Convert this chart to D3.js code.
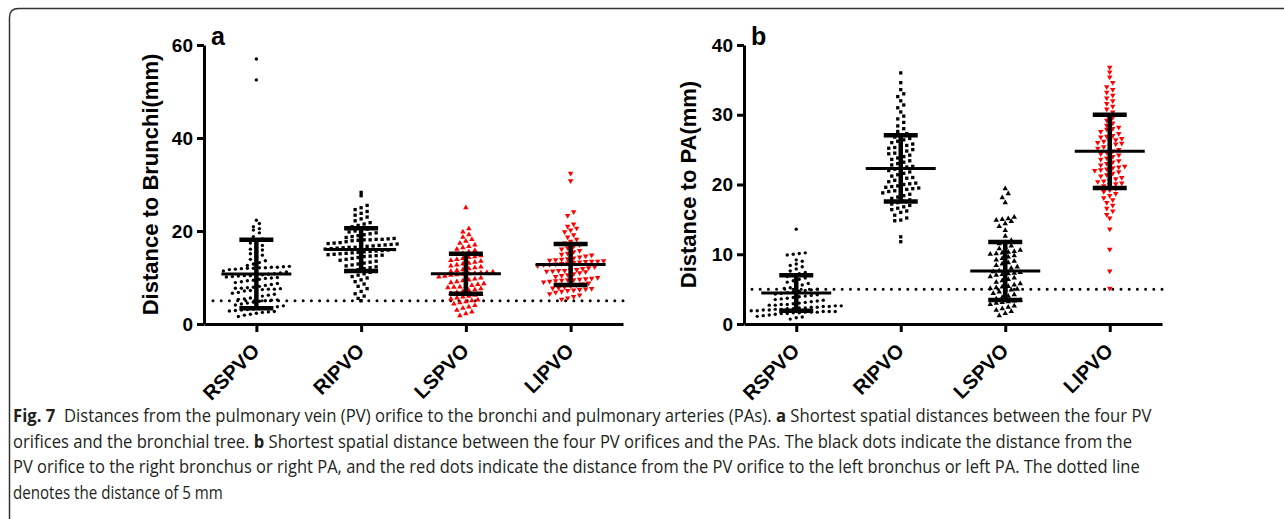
<!DOCTYPE html>
<html>
<head>
<meta charset="utf-8">
<script src="https://d3js.org/d3.v7.min.js"></script>
<style>
  body { margin: 0; background: #fff; }
  .tick text { font-family: "Liberation Sans", Arial, sans-serif; font-weight: bold; }
</style>
</head>
<body>
<div id="fig7"></div>
<script>
// categories and ticks
var categories = ["RSPVO", "RIPVO", "LSPVO", "LIPVO"]
var bronchiTicks = [0, 20, 40, 60]
var paTicks = [0, 10, 20, 30, 40]
var cutoff = 5

// panel a : distance to bronchi (mm)
var bronchiRSPVO = [57.0, 52.5, 22.3, 21.6, 20.9, 20.5, 20.2, 19.6, 18.8, 18.3, 17.8, 17.4, 16.9, 16.5, 16.1, 15.9, 15.4, 15.1, 14.8, 14.3, 13.9, 13.6, 13.2, 12.9, 12.6, 12.4, 12.3, 12.2, 12.2, 12.1, 12.1, 12.0, 12.0, 11.9, 11.8, 11.7, 11.4, 11.2, 11.0, 10.8, 10.7, 10.6, 10.5, 10.4, 10.4, 10.3, 10.2, 10.1, 10.0, 9.9, 9.8, 9.6, 9.4, 9.3, 9.1, 8.9, 8.7, 8.5, 8.3, 8.1, 7.9, 7.8, 7.7, 7.7, 7.6, 7.5, 7.5, 7.4, 7.3, 7.2, 7.1, 6.8, 6.6, 6.4, 6.2, 6.0, 5.8, 5.6, 5.4, 5.3, 5.2, 5.1, 5.0, 4.9, 4.7, 4.5, 4.3, 4.1, 3.9, 3.7, 3.5, 3.4, 3.3, 3.2, 3.1, 3.0, 2.9, 2.8, 2.7, 2.6, 2.5, 2.3, 2.1, 1.9, 1.6]
var bronchiRIPVO = [28.3, 27.6, 25.5, 25.0, 24.6, 24.2, 23.8, 23.4, 23.0, 22.6, 22.2, 21.8, 21.5, 21.2, 20.9, 20.6, 20.4, 20.2, 20.0, 19.8, 19.6, 19.4, 19.2, 19.0, 18.8, 18.6, 18.4, 18.3, 18.2, 18.2, 18.1, 18.1, 18.0, 17.9, 17.7, 17.5, 17.4, 17.3, 17.2, 17.1, 17.0, 16.9, 16.8, 16.7, 16.6, 16.5, 16.5, 16.4, 16.3, 16.2, 16.1, 16.0, 15.9, 15.8, 15.7, 15.6, 15.5, 15.4, 15.3, 15.2, 15.1, 15.0, 14.9, 14.8, 14.7, 14.6, 14.5, 14.3, 14.1, 13.9, 13.7, 13.5, 13.3, 13.1, 12.9, 12.7, 12.5, 12.3, 12.1, 11.9, 11.7, 11.5, 11.3, 11.1, 10.8, 10.5, 10.2, 9.9, 9.5, 9.1, 8.6, 8.1, 7.6, 7.0, 6.5, 6.0, 5.5, 5.0]
var bronchiLSPVO = [25.0, 20.5, 19.8, 19.2, 18.7, 18.2, 17.8, 17.4, 17.0, 16.7, 16.4, 16.1, 15.8, 15.5, 15.2, 15.0, 14.7, 14.5, 14.3, 14.1, 13.9, 13.7, 13.5, 13.3, 13.1, 12.9, 12.7, 12.5, 12.3, 12.1, 11.9, 11.7, 11.5, 11.3, 11.2, 11.1, 11.0, 10.9, 10.8, 10.7, 10.6, 10.5, 10.3, 10.1, 9.9, 9.7, 9.5, 9.3, 9.1, 8.9, 8.7, 8.5, 8.3, 8.1, 8.0, 7.9, 7.8, 7.6, 7.4, 7.2, 7.0, 6.8, 6.6, 6.4, 6.2, 6.0, 5.8, 5.6, 5.4, 5.2, 5.0, 4.8, 4.6, 4.3, 4.0, 3.7, 3.4, 3.0, 2.6, 2.2, 1.8]
var bronchiLIPVO = [32.4, 30.8, 24.1, 23.3, 21.5, 21.0, 20.6, 20.2, 19.8, 19.2, 18.7, 18.2, 17.8, 17.4, 17.0, 16.7, 16.4, 16.1, 15.8, 15.5, 15.2, 15.0, 14.8, 14.6, 14.4, 14.2, 14.0, 13.9, 13.8, 13.7, 13.6, 13.5, 13.5, 13.4, 13.3, 13.2, 13.1, 13.0, 12.9, 12.8, 12.7, 12.5, 12.3, 12.1, 11.9, 11.7, 11.6, 11.5, 11.5, 11.4, 11.3, 11.2, 11.0, 10.8, 10.6, 10.4, 10.2, 10.0, 9.8, 9.7, 9.6, 9.5, 9.5, 9.4, 9.3, 9.2, 9.0, 8.8, 8.6, 8.4, 8.2, 8.0, 7.8, 7.7, 7.6, 7.5, 7.4, 7.3, 7.2, 7.0, 6.8, 6.5, 6.2, 5.9, 5.6, 5.3]
var bronchiMeans = [10.75, 16.0, 10.8, 12.8]
var bronchiSDs = [7.35, 4.6, 4.3, 4.4]

// panel b : distance to PA (mm)
var paRSPVO = [13.6, 10.2, 10.1, 10.0, 9.9, 9.2, 9.0, 8.6, 8.4, 8.2, 7.9, 7.6, 7.4, 7.2, 7.0, 6.8, 6.6, 6.4, 6.2, 6.0, 5.8, 5.6, 5.4, 5.2, 5.1, 5.0, 4.9, 4.8, 4.7, 4.6, 4.5, 4.4, 4.3, 4.2, 4.1, 4.0, 3.9, 3.8, 3.7, 3.6, 3.5, 3.4, 3.3, 3.2, 3.1, 3.0, 2.9, 2.8, 2.8, 2.7, 2.7, 2.6, 2.6, 2.5, 2.5, 2.4, 2.4, 2.3, 2.3, 2.2, 2.2, 2.1, 2.1, 2.0, 2.0, 1.9, 1.9, 1.8, 1.8, 1.8, 1.7, 1.7, 1.7, 1.6, 1.6, 1.5, 1.5, 1.4, 1.3, 1.2, 1.1, 1.0, 0.9, 0.7]
var paRIPVO = [36.0, 34.6, 33.6, 33.0, 32.6, 32.0, 31.4, 31.0, 30.4, 29.8, 29.4, 28.9, 28.4, 28.0, 27.6, 27.3, 27.0, 26.8, 26.6, 26.4, 26.2, 26.0, 25.8, 25.6, 25.4, 25.3, 25.2, 25.0, 24.8, 24.6, 24.5, 24.4, 24.2, 24.0, 23.8, 23.6, 23.4, 23.2, 23.0, 22.8, 22.6, 22.5, 22.4, 22.2, 22.0, 21.8, 21.6, 21.4, 21.2, 21.0, 20.9, 20.8, 20.6, 20.4, 20.2, 20.1, 20.0, 19.8, 19.7, 19.6, 19.5, 19.4, 19.3, 19.2, 19.1, 19.0, 18.8, 18.6, 18.4, 18.2, 18.0, 17.8, 17.6, 17.4, 17.2, 17.0, 16.8, 16.6, 16.4, 16.2, 16.0, 15.6, 15.2, 14.9, 14.8, 12.5, 11.8]
var paLSPVO = [19.4, 18.7, 18.1, 17.4, 15.3, 15.1, 15.0, 14.9, 14.7, 14.4, 14.0, 13.4, 12.6, 12.0, 11.7, 11.5, 11.2, 11.0, 10.8, 10.6, 10.4, 10.3, 10.2, 10.1, 10.0, 9.8, 9.6, 9.4, 9.2, 9.0, 8.8, 8.6, 8.4, 8.2, 8.0, 7.8, 7.6, 7.5, 7.4, 7.3, 7.2, 7.1, 7.0, 6.8, 6.6, 6.4, 6.2, 6.0, 5.8, 5.6, 5.4, 5.3, 5.2, 5.1, 5.0, 4.9, 4.8, 4.6, 4.4, 4.2, 4.0, 3.8, 3.6, 3.4, 3.3, 3.2, 3.1, 3.0, 2.8, 2.6, 2.4, 2.2, 2.0, 1.8, 1.5, 1.2]
var paLIPVO = [36.8, 36.1, 35.4, 34.6, 34.0, 33.6, 33.2, 32.8, 32.4, 32.0, 31.6, 31.2, 30.8, 30.4, 30.0, 29.6, 29.2, 28.8, 28.5, 28.2, 28.0, 27.9, 27.6, 27.3, 27.0, 26.9, 26.8, 26.6, 26.4, 26.3, 26.2, 26.0, 25.9, 25.8, 25.6, 25.4, 25.2, 25.0, 24.8, 24.6, 24.4, 24.2, 24.0, 23.8, 23.6, 23.4, 23.2, 23.0, 22.8, 22.6, 22.5, 22.4, 22.2, 22.1, 22.0, 21.8, 21.6, 21.4, 21.2, 21.0, 20.8, 20.6, 20.5, 20.4, 20.2, 20.1, 20.0, 19.8, 19.6, 19.4, 19.2, 19.0, 18.7, 18.4, 18.1, 17.8, 17.4, 17.0, 16.6, 16.2, 15.7, 15.2, 13.6, 10.7, 7.6, 5.1]
var paMeans = [4.45, 22.3, 7.6, 24.75]
var paSDs = [2.55, 4.75, 4.15, 5.25]

// caption lines (plain / bold parts)
var captionLines = [
  [["Fig. 7", true], ["  Distances from the pulmonary vein (PV) orifice to the bronchi and pulmonary arteries (PAs). ", false], ["a", true], [" Shortest spatial distances between the four PV", false]],
  [["orifices and the bronchial tree. ", false], ["b", true], [" Shortest spatial distance between the four PV orifices and the PAs. The black dots indicate the distance from the", false]],
  [["PV orifice to the right bronchus or right PA, and the red dots indicate the distance from the PV orifice to the left bronchus or left PA. The dotted line", false]],
  [["denotes the distance of 5 mm", false]]
]
var captionWidths = [1139, 1120, 1127, 210]

var svg = d3.select("#fig7")
  .append("svg")
    .attr("width", 1284)
    .attr("height", 519)
    .style("display", "block")

// rounded frame (top + left edges visible)
svg.append("path")
  .attr("d", "M9.5,560V17.5Q9.5,8.5 18.5,8.5H1300")
  .attr("fill", "none")
  .attr("stroke", "#333")
  .attr("stroke-width", 1.5)

var markerTypes = [d3.symbolCircle, d3.symbolSquare, d3.symbolTriangle, d3.symbolTriangle]
var markerSizes = [9, 11, 13, 13]

// group points with close pixel height into rows, spread them sideways
function swarm(values, y, rowH, step) {
  var rows = d3.group(values, function(v) { return Math.round(y(v) / rowH) })
  var out = []
  rows.forEach(function(list) {
    list.sort(d3.ascending)
    var n = list.length
    list.forEach(function(v, k) {
      out.push({ v: v, dx: (k - (n - 1) / 2) * step })
    })
  })
  return out
}

function drawPanel(p) {
  var g = svg.append("g")
    .attr("transform", "translate(" + p.left + "," + p.top + ")")

  var x = d3.scalePoint()
    .domain(categories)
    .range([0, p.width])
    .padding(0.5)

  var y = d3.scaleLinear()
    .domain([0, d3.max(p.ticks)])
    .range([p.height, 0])

  // Y axis
  var yAxis = g.append("g")
    .call(d3.axisLeft(y).tickValues(p.ticks).tickSize(7).tickSizeOuter(0).tickPadding(4))
  yAxis.select(".domain").attr("stroke-width", 3)
  yAxis.selectAll(".tick line").attr("stroke-width", 3)
  yAxis.selectAll(".tick text").style("font-size", "19px").attr("fill", "#000")

  // X axis
  var xAxis = g.append("g")
    .attr("transform", "translate(0," + p.height + ")")
    .call(d3.axisBottom(x).tickSize(8).tickSizeOuter(0))
  xAxis.select(".domain").attr("stroke-width", 3)
  xAxis.selectAll(".tick line").attr("stroke-width", 3)
  xAxis.selectAll(".tick text")
    .attr("x", 0)
    .attr("y", 0)
    .attr("dy", 0)
    .attr("transform", "translate(4,28)rotate(-45)")
    .style("text-anchor", "end")
    .style("font-size", "20px")
    .attr("fill", "#000")

  // y label
  g.append("text")
    .attr("transform", "translate(" + p.labelX + "," + (p.height / 2) + ")rotate(-90)")
    .attr("text-anchor", "middle")
    .style("font-family", "'Liberation Sans', Arial, sans-serif")
    .style("font-weight", "bold")
    .style("font-size", "22px")
    .text(p.label)

  // panel letter
  g.append("text")
    .attr("x", 7)
    .attr("y", 0)
    .style("font-family", "'Liberation Sans', Arial, sans-serif")
    .style("font-weight", "bold")
    .style("font-size", "25px")
    .text(p.letter)

  // 5 mm dotted line
  g.append("line")
    .attr("x1", p.dotStart)
    .attr("x2", p.width)
    .attr("y1", y(cutoff))
    .attr("y2", y(cutoff))
    .attr("stroke", "#000")
    .attr("stroke-width", 3)
    .attr("stroke-linecap", "round")
    .attr("stroke-dasharray", "0,8.2")

  // dots
  p.groups.forEach(function(vals, i) {
    var pts = swarm(vals, y, 5.6, 6)
    var sym = d3.symbol().type(markerTypes[i]).size(markerSizes[i])
    g.append("g").selectAll("path")
      .data(pts)
      .enter()
      .append("path")
        .attr("d", sym)
        .attr("fill", p.colors[i])
        .attr("transform", function(d) {
          return "translate(" + (x(categories[i]) + d.dx) + "," + y(d.v) + ")" + (i == 3 ? "rotate(180)" : "")
        })
  })

  // mean and SD
  categories.forEach(function(c, i) {
    var cx = x(c), m = p.means[i], s = p.sds[i]
    g.append("line")
      .attr("x1", cx).attr("x2", cx)
      .attr("y1", y(m + s)).attr("y2", y(m - s))
      .attr("stroke", "#000").attr("stroke-width", 4.5)
    ;[m + s, m - s].forEach(function(v) {
      g.append("line")
        .attr("x1", cx - 17).attr("x2", cx + 17)
        .attr("y1", y(v)).attr("y2", y(v))
        .attr("stroke", "#000").attr("stroke-width", 4.5)
    })
    g.append("line")
      .attr("x1", cx - 35).attr("x2", cx + 35)
      .attr("y1", y(m)).attr("y2", y(m))
      .attr("stroke", "#000").attr("stroke-width", 3)
  })
}

drawPanel({
  letter: "a", left: 204, top: 45, width: 419, height: 279,
  ticks: bronchiTicks, label: "Distance to Brunchi(mm)", labelX: -46, dotStart: 9,
  groups: [bronchiRSPVO, bronchiRIPVO, bronchiLSPVO, bronchiLIPVO],
  colors: ["#000", "#000", "#f00", "#f00"],
  means: bronchiMeans, sds: bronchiSDs
})

drawPanel({
  letter: "b", left: 744, top: 45, width: 418, height: 279,
  ticks: paTicks, label: "Distance to PA(mm)", labelX: -48, dotStart: 8,
  groups: [paRSPVO, paRIPVO, paLSPVO, paLIPVO],
  colors: ["#000", "#000", "#000", "#f00"],
  means: paMeans, sds: paSDs
})

// caption: natural width measured, then squeezed sideways to the reference width
var caption = svg.append("g")
captionLines.forEach(function(parts, i) {
  var t = caption.append("text")
    .attr("x", 0)
    .attr("y", 0)
    .style("font-family", "'Open Sans', 'Noto Sans', sans-serif")
    .style("font-size", "18px")
    .attr("fill", "#231f20")
    .attr("xml:space", "preserve")
    .style("white-space", "pre")
  parts.forEach(function(part) {
    t.append("tspan")
      .style("font-weight", part[1] ? "bold" : "normal")
      .text(part[0])
  })
  var len = t.node().getComputedTextLength()
  t.attr("transform", "translate(13," + (422 + i * 25.5) + ")scale(" + (captionWidths[i] / len) + ",1)")
})
</script>
</body>
</html>
